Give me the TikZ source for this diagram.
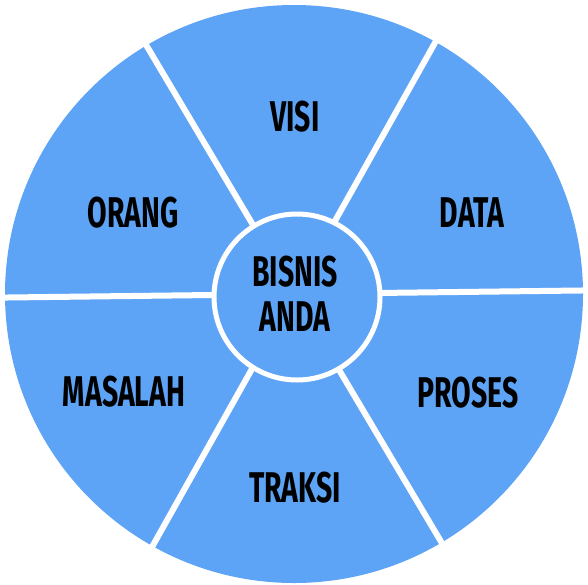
\documentclass[tikz,border=0pt]{standalone}
\usepackage{fontspec}
\usetikzlibrary{calc}
\newfontfamily\labfont[FakeStretch=0.66]{Fira Sans}
\definecolor{segblue}{RGB}{94,164,246}
\begin{document}
\begin{tikzpicture}[x=1pt,y=-1pt,
  lab/.style={font=\labfont\bfseries\fontsize{43}{43}\selectfont, text=black, inner sep=0pt, text height=29.5pt, text depth=0pt, anchor=center},
  sep/.style={draw=white, line width=6pt}]
\useasboundingbox (0,0) rectangle (588,584);
\coordinate (c) at (294,294);
\fill[segblue] (c) circle[radius=289];
\foreach \a [count=\i] in {-0.7,-60.7,-120.7,-180.7,-240.7,-300.7}{
  \coordinate (e\i) at ($(c)+(\a:300)$);
  \draw[sep] (c) -- (e\i);
}
\node[circle, fill=segblue, draw=white, line width=5pt, minimum size=166pt, inner sep=0pt] (hub) at (297,297) {};
\node[lab] (visi) at (295,117) {VISI};
\node[lab] (data) at (472,213) {DATA};
\node[lab] (proses) at (468,393) {PROSES};
\node[lab] (traksi) at (295,488) {TRAKSI};
\node[lab] (masalah) at (124,392) {MASALAH};
\node[lab] (orang) at (133,213) {ORANG};
\node[lab] (bisnis) at (295,272) {BISNIS};
\node[lab] (anda) at (295,317) {ANDA};
\end{tikzpicture}
\end{document}
